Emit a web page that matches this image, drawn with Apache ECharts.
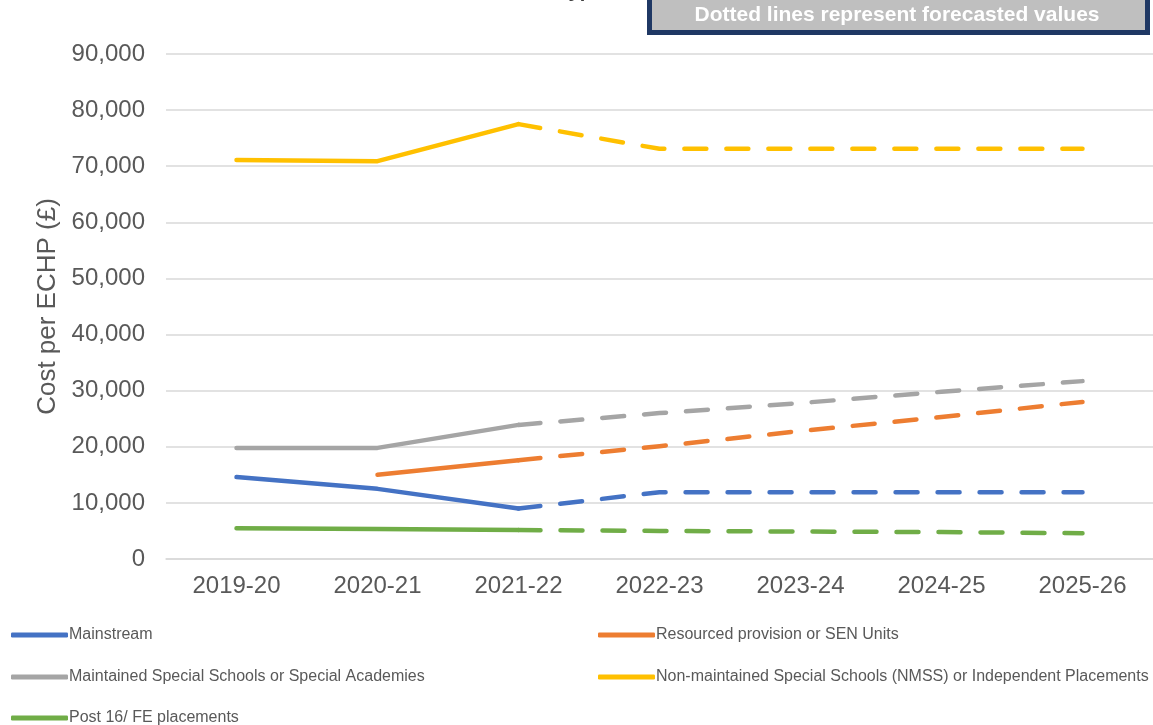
<!DOCTYPE html>
<html>
<head>
<meta charset="utf-8">
<script src="https://cdn.jsdelivr.net/npm/echarts@6/dist/echarts.min.js"></script>
<style>
html,body{margin:0;padding:0;background:#fff;}
#chart{width:1153px;height:725px;}
</style>
</head>
<body>
<div id="chart"></div>
<script>
const categories = ['2019-20','2020-21','2021-22','2022-23','2023-24','2024-25','2025-26'];
const forecastStartIndex = 2; // 2021-22: last actual / first forecast point

const mainstream   = [14600, 12500, 9000, 11900, 11900, 11900, 11900];
const resourced    = [null, 15000, 17600, 20100, 22800, 25300, 28000];
const maintained   = [19800, 19800, 23900, 26000, 27800, 29800, 31700];
const nmss         = [71100, 70900, 77500, 73100, 73100, 73100, 73100];
const post16       = [5500, 5350, 5150, 5000, 4900, 4800, 4600];

const seriesNames = [
  'Mainstream',
  'Resourced provision or SEN Units',
  'Maintained Special Schools or Special Academies',
  'Non-maintained Special Schools (NMSS) or Independent Placements',
  'Post 16/ FE placements'
];
const seriesValues = [mainstream, resourced, maintained, nmss, post16];
const colors = ['#4472C4', '#ED7D31', '#A5A5A5', '#FFC000', '#70AD47'];

const yTicks = { min: 0, max: 90000, interval: 10000 };

const font = '"Liberation Sans", Arial, sans-serif';
const series = [];
seriesValues.forEach((vals, i) => {
  const actual = vals.map((v, j) => j <= forecastStartIndex ? v : null);
  const forecast = vals.map((v, j) => j >= forecastStartIndex ? v : null);
  const base = {
    type: 'line', name: seriesNames[i], symbol: 'none', smooth: false,
    connectNulls: false, color: colors[i], z: 2 + i
  };
  series.push(Object.assign({}, base, {
    data: actual,
    lineStyle: { color: colors[i], width: 4.5, cap: 'round', join: 'round' }
  }));
  series.push(Object.assign({}, base, {
    data: forecast,
    lineStyle: { color: colors[i], width: 4.5, cap: 'round', join: 'round', type: [22, 20] }
  }));
});

// legend placement: [left, top] per series
const legendPos = [[11, 627], [598, 627], [11, 669], [598, 669], [11, 710]];
const legends = seriesNames.map((n, i) => ({
  data: [n], left: legendPos[i][0], top: legendPos[i][1],
  icon: 'roundRect', itemWidth: 57, itemHeight: 5, padding: 0,
  textStyle: { color: '#595959', fontSize: 16, fontFamily: font, padding: [0, 0, 0, -4] }
}));

const chart = echarts.init(document.getElementById('chart'), null, { renderer: 'canvas' });
chart.setOption({
  animation: false,
  backgroundColor: '#ffffff',
  grid: { left: 166, right: 0, top: 54, bottom: 166, containLabel: false },
  xAxis: {
    type: 'category', data: categories, boundaryGap: true,
    axisTick: { show: false },
    axisLine: { show: true, lineStyle: { color: '#D9D9D9', width: 1.5 } },
    axisLabel: { color: '#595959', fontSize: 24, fontFamily: font, margin: 15 }
  },
  yAxis: {
    type: 'value', min: yTicks.min, max: yTicks.max, interval: yTicks.interval,
    name: 'Cost per ECHP (£)', nameLocation: 'middle', nameGap: 104,
    nameTextStyle: { color: '#595959', fontSize: 26, fontFamily: font },
    axisLine: { show: false }, axisTick: { show: false },
    splitLine: { lineStyle: { color: '#D9D9D9', width: 1.5 } },
    axisLabel: {
      color: '#595959', fontSize: 24, fontFamily: font, margin: 21,
      formatter: v => v.toLocaleString('en-GB')
    }
  },
  legend: legends,
  graphic: [
    {
      type: 'text', x: 603, y: 1,
      style: { text: 'Type', fill: '#404040',
        font: 'bold 20px ' + font, textAlign: 'right', textVerticalAlign: 'bottom' },
      z: 10
    },
    {
      type: 'rect', shape: { x: 649.5, y: -10, width: 498, height: 42.5 },
      style: { fill: '#BFBFBF', stroke: '#1F3864', lineWidth: 5 }, z: 20
    },
    {
      type: 'text', x: 897, y: 15,
      style: { text: 'Dotted lines represent forecasted values', fill: '#ffffff',
        font: 'bold 21px ' + font, textAlign: 'center', textVerticalAlign: 'middle' },
      z: 21
    }
  ],
  series: series
});
</script>
</body>
</html>
